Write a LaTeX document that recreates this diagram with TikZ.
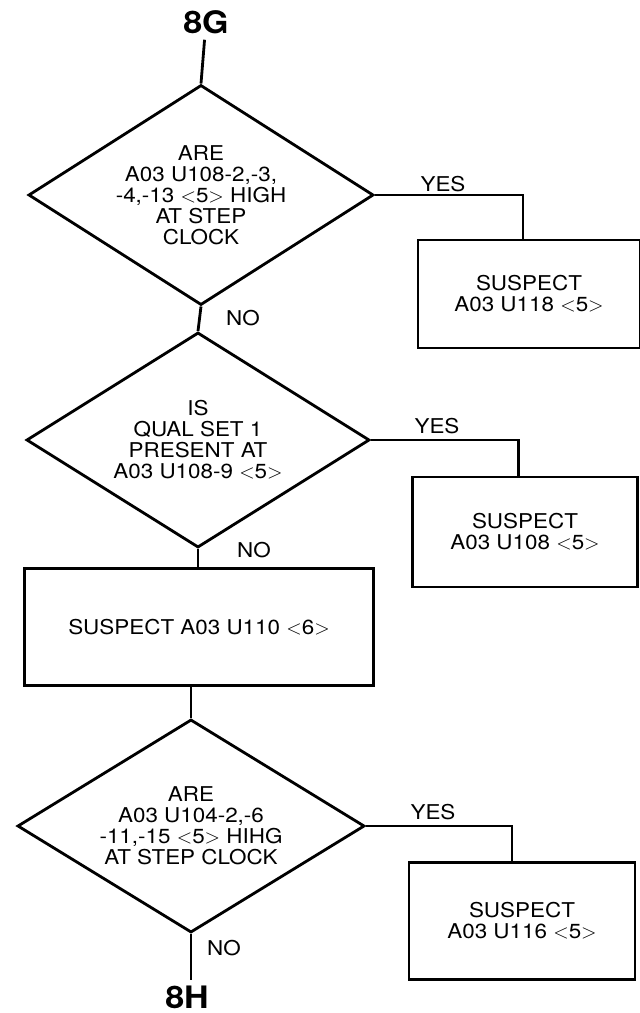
\documentclass[tikz,border=0pt]{standalone}
\usepackage{fontspec}
\setmainfont{TeX Gyre Heros}[FakeStretch=1.1]
\usetikzlibrary{shapes.geometric}

\newcommand{\pin}[1]{$<$#1$>$}

\begin{document}
\begin{tikzpicture}[x=0.025cm,y=-0.025cm,line width=2pt,
    every node/.style={font=\fontsize{14.5}{15}\selectfont},
    decision/.style={draw,diamond,aspect=1.6,inner sep=0pt,align=center},
    suspect/.style={draw,rectangle,inner sep=0pt,align=center},
    tag/.style={font=\fontsize{22}{23}\selectfont\bfseries}]
    \useasboundingbox (0,0) rectangle (639,1013);
    % entry and exit tags
    \node[tag] (g8) at (206,22) {8G};
    \node[tag] (h8) at (187,997) {8H};
    % decisions
    \node[decision,minimum width=8.625cm,minimum height=5.5cm] (d1) at (201,195)
        {ARE\\A03 U108-2,-3,\\-4,-13 \pin{5} HIGH\\AT STEP\\CLOCK};
    \node[decision,minimum width=8.575cm,minimum height=5.375cm] (d2) at (198,440)
        {IS\\QUAL SET 1\\PRESENT AT\\A03 U108-9 \pin{5}};
    \node[decision,minimum width=8.675cm,minimum height=5.325cm] (d4) at (191,826)
        {ARE\\A03 U104-2,-6\\-11,-15 \pin{5} HIHG\\AT STEP CLOCK};
    % suspects
    \node[suspect,minimum width=5.55cm,minimum height=2.7cm] (b1) at (529,294)
        {SUSPECT\\A03 U118 \pin{5}};
    \node[suspect,minimum width=5.625cm,minimum height=2.75cm] (b2) at (525,532)
        {SUSPECT\\A03 U108 \pin{5}};
    \node[suspect,minimum width=8.725cm,minimum height=2.925cm] (b3) at (199,627)
        {SUSPECT A03 U110 \pin{6}};
    \node[suspect,minimum width=5.65cm,minimum height=2.925cm] (b4) at (522,921)
        {SUSPECT\\A03 U116 \pin{5}};
    % branch labels
    \node[anchor=west] (no1) at (220,318) {NO};
    \node[anchor=west] (no2) at (231,550) {NO};
    \node[anchor=west] (no4) at (201,948) {NO};
    \node (yes1) at (443,184) {YES};
    \node (yes2) at (437,426) {YES};
    \node (yes4) at (433,812) {YES};
    % flow
    \draw (g8) -- (d1.north);
    \draw (d1.south) -- (d2.north);
    \draw (d2.south) -- (d2.south |- b3.north);
    \draw (b3.south -| d4.north) -- (d4.north);
    \draw (d4.south) -- (d4.south |- h8.north);
    \draw (d1.east) -| ([xshift=-0.15cm]b1.north);
    \draw (d2.east) -| ([xshift=-0.16cm]b2.north);
    \draw (d4.east) -| ([xshift=-0.25cm]b4.north);
\end{tikzpicture}
\end{document}
